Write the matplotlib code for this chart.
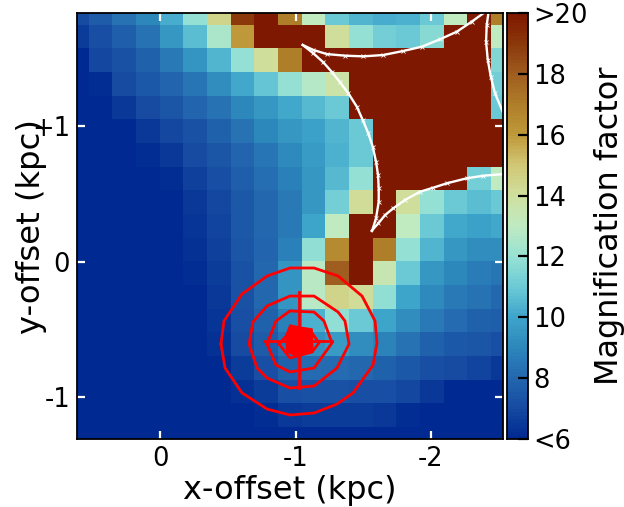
import numpy as np
import matplotlib
matplotlib.use('Agg')
import matplotlib.pyplot as plt
from matplotlib.colors import LinearSegmentedColormap

# magnification per cell, top row first, >20 stored as 21
mag = np.array([
    [7.0, 7.6, 8.3, 9.0, 10.2, 12, 14.5, 19, 21, 17, 13, 11, 10.4, 10.2, 10.3, 11, 13, 21, 17],
    [6.6, 7.2, 7.7, 8.4, 9.5, 10.6, 12.5, 16, 21, 21, 21, 14, 12, 11.2, 11, 11.6, 21, 21, 13],
    [6, 6.9, 7.3, 7.8, 8.6, 9.4, 10.4, 12, 14, 17, 21, 21, 21, 21, 21, 21, 21, 21, 11.5],
    [6, 6.2, 7, 7.5, 7.9, 8.5, 9.2, 10.1, 10.9, 12, 12.7, 13.7, 21, 21, 21, 21, 21, 21, 11.2],
    [6, 6, 6.5, 7, 7.4, 7.9, 8.4, 9, 9.5, 10.1, 10.5, 11, 21, 21, 21, 21, 21, 21, 11],
    [6, 6, 6, 6.5, 6.9, 7.3, 7.8, 8.4, 9, 9.6, 9.9, 10.4, 11, 21, 21, 21, 21, 21, 21],
    [6, 6, 6, 6.2, 6.5, 7, 7.4, 7.9, 8.5, 9.1, 9.7, 10.3, 11, 21, 21, 21, 21, 21, 21],
    [6, 6, 6, 6, 6.2, 6.7, 7.2, 7.7, 8.2, 8.8, 9.6, 10.5, 12, 21, 21, 21, 21, 11.2, 13],
    [6, 6, 6, 6, 6.1, 6.5, 6.9, 7.5, 8, 8.6, 9.6, 11.2, 14.2, 21, 14, 12, 11, 10.7, 11],
    [6, 6, 6, 6, 6, 6.4, 6.8, 7.5, 8, 8.6, 10, 13, 21, 21, 13, 11, 10.1, 9.9, 10.1],
    [6, 6, 6, 6, 6, 6.3, 6.7, 7.4, 7.9, 8.8, 11.8, 16.5, 21, 17, 12, 10.4, 9.6, 9.2, 9.2],
    [6, 6, 6, 6, 6, 6.2, 6.6, 7.3, 8, 9.4, 12.8, 18, 21, 13.5, 11, 9.6, 9, 8.7, 8.5],
    [6, 6, 6, 6, 6, 6.1, 6.5, 7.3, 8, 9.4, 12.8, 14.5, 14.2, 11.8, 10, 9.1, 8.6, 8.3, 8],
    [6, 6, 6, 6, 6, 6, 6.4, 7.2, 7.8, 8.8, 10.3, 11.8, 11, 10, 9.2, 8.6, 8.1, 7.8, 7.7],
    [6, 6, 6, 6, 6, 6, 6.3, 7, 7.6, 8.3, 9.3, 9.7, 9.2, 8.9, 8.3, 7.8, 7.5, 7.4, 7.2],
    [6, 6, 6, 6, 6, 6, 6.1, 6.6, 7.1, 7.8, 8.1, 8.1, 8, 7.8, 7.5, 7.2, 7, 6.8, 6.5],
    [6, 6, 6, 6, 6, 6, 6, 6.3, 6.6, 7.1, 7.3, 7.3, 7.2, 7.1, 6.9, 6.5, 6, 6, 6],
    [6, 6, 6, 6, 6, 6, 6, 6, 6.2, 6.5, 6.6, 6.6, 6.6, 6.5, 6.2, 6, 6, 6, 6],
    [6, 6, 6, 6, 6, 6, 6, 6, 6, 6, 6, 6, 6, 6, 6, 6, 6, 6, 6],
])

# caustic curves (kpc)
caus_a_x = [-1.053, -1.132, -1.205, -1.267, -1.329, -1.39, -1.452, -1.496, -1.537, -1.57, -1.594, -1.609, -1.614, -1.614, -1.594, -1.565]
caus_a_y = [1.598, 1.536, 1.470, 1.4, 1.322, 1.241, 1.143, 1.044, 0.946, 0.847, 0.737, 0.638, 0.539, 0.441, 0.319, 0.225]
caus_b_x = [-1.562, -1.611, -1.661, -1.722, -1.808, -1.919, -2.017, -2.116, -2.263, -2.386, -2.546]
caus_b_y = [0.227, 0.282, 0.343, 0.393, 0.454, 0.515, 0.545, 0.577, 0.614, 0.633, 0.646]
caus_c_x = [-1.053, -1.132, -1.230, -1.365, -1.501, -1.648, -1.796, -1.931, -2.066, -2.190, -2.3, -2.386]
caus_c_y = [1.598, 1.561, 1.531, 1.519, 1.514, 1.524, 1.554, 1.585, 1.640, 1.696, 1.770, 1.832]
caus_d_x = [-2.423, -2.411, -2.406, -2.419, -2.441, -2.472, -2.529]
caus_d_y = [1.832, 1.745, 1.622, 1.487, 1.364, 1.241, 1.105]

# source contours (kpc)
c1_x = [-0.45, -0.472, -0.605, -0.79, -0.959, -1.137, -1.314, -1.491, -1.587, -1.601, -1.572, -1.424, -1.306, -1.137, -0.959, -0.79, -0.605, -0.48, -0.45]
c1_y = [-0.609, -0.439, -0.24, -0.107, -0.048, -0.048, -0.107, -0.255, -0.439, -0.601, -0.764, -0.97, -1.052, -1.118, -1.133, -1.089, -0.97, -0.786, -0.609]
c2_x = [-0.657, -0.686, -0.79, -0.959, -1.137, -1.314, -1.365, -1.395, -1.306, -1.137, -0.959, -0.79, -0.716, -0.657]
c2_y = [-0.609, -0.446, -0.328, -0.255, -0.255, -0.373, -0.439, -0.609, -0.786, -0.919, -0.934, -0.86, -0.786, -0.609]
c3_x = [-0.79, -0.856, -0.959, -1.137, -1.21, -1.269, -1.137, -0.959, -0.856, -0.79]
c3_y = [-0.609, -0.439, -0.365, -0.373, -0.439, -0.601, -0.786, -0.815, -0.764, -0.609]
c4_x = [-0.878, -0.959, -1.122, -1.173, -1.122, -0.959, -0.878]
c4_y = [-0.609, -0.52, -0.528, -0.601, -0.668, -0.712, -0.609]
core_x = [-0.93, -0.959, -1.026, -1.122, -1.129, -1.004, -0.937]
core_y = [-0.542, -0.469, -0.483, -0.498, -0.668, -0.697, -0.668]
cross_h_x = [-0.768, -1.269]
cross_h_y = [-0.587, -0.587]
cross_v_x = [-1.026, -1.026]
cross_v_y = [-0.225, -0.934]

cbar_ticks = [6, 8, 10, 12, 14, 16, 18, 20]
cbar_labels = ['<6', '8', '10', '12', '14', '16', '18', '>20']

cmap_vals = [6, 7, 8, 9, 10, 11, 12, 13, 14, 15, 16, 17, 18, 19, 20]
cmap_cols = ['#002a92', '#174ca2', '#2468b0', '#2d88bc', '#3fa6cb', '#6ccbd6', '#98e2d4',
             '#c0ebc2', '#d0e09e', '#d2c876', '#c09a3a', '#b07f2a', '#a05e20', '#8c3a0c', '#7f1800']
cmap = LinearSegmentedColormap.from_list(
    'mag', [((v - 6) / 14, c) for v, c in zip(cmap_vals, cmap_cols)], N=128)

W, H = 624, 507
fig = plt.figure(figsize=(W / 100, H / 100), dpi=100)
ax = fig.add_axes([77 / W, 1 - 439 / H, 426 / W, 426 / H])
cax = fig.add_axes([507 / W, 1 - 439 / H, 21 / W, 426 / H])

half = 0.0873
xleft, xright = 0.6125, -2.531
ytop, ybot = 1.834, -1.310
ax.imshow(mag, cmap=cmap, vmin=6, vmax=20, interpolation='nearest', aspect='auto',
          extent=[xleft + half, xright - half, ybot - half, ytop + half])
ax.set_xlim(xleft, xright)
ax.set_ylim(ybot, ytop)

for xs, ys in [(caus_a_x, caus_a_y), (caus_b_x, caus_b_y), (caus_c_x, caus_c_y), (caus_d_x, caus_d_y)]:
    ax.plot(xs, ys, color='white', lw=1.7)
    ax.plot(xs[1:-1], ys[1:-1], color='white', ls='', marker='x', ms=2.5, mew=0.6)

for xs, ys in [(c1_x, c1_y), (c2_x, c2_y), (c3_x, c3_y), (c4_x, c4_y), (cross_h_x, cross_h_y), (cross_v_x, cross_v_y)]:
    ax.plot(xs, ys, color='red', lw=2.0)
ax.fill(core_x, core_y, color='red', lw=1)

ax.set_xticks([0, -1, -2])
ax.set_xticklabels(['0', '-1', '-2'])
ax.set_yticks([1, 0, -1])
ax.set_yticklabels(['+1', '0', '-1'])
ax.tick_params(direction='in', color='white', length=5.5, width=1.6, top=True, right=True,
               labelsize=18.5, pad=5)
for s in ax.spines.values():
    s.set_linewidth(1.3)
ax.set_xlabel('x-offset (kpc)', fontsize=23, labelpad=2)
ax.set_ylabel('y-offset (kpc)', fontsize=23.2, labelpad=-11)

grad = np.linspace(6, 20, 128).reshape(-1, 1)
cax.imshow(grad, cmap=cmap, vmin=6, vmax=20, origin='lower', aspect='auto', extent=[0, 1, 6, 20])
cax.set_xticks([])
cax.yaxis.tick_right()
cax.yaxis.set_label_position('right')
cax.set_yticks(cbar_ticks)
cax.set_yticklabels(cbar_labels)
cax.tick_params(direction='in', color='black', length=7, width=1.6, labelsize=18.5, pad=4)
for s in cax.spines.values():
    s.set_linewidth(1.3)
cax.set_ylabel('Magnification factor', fontsize=23, labelpad=4)

fig.savefig('out.png', dpi=100)
